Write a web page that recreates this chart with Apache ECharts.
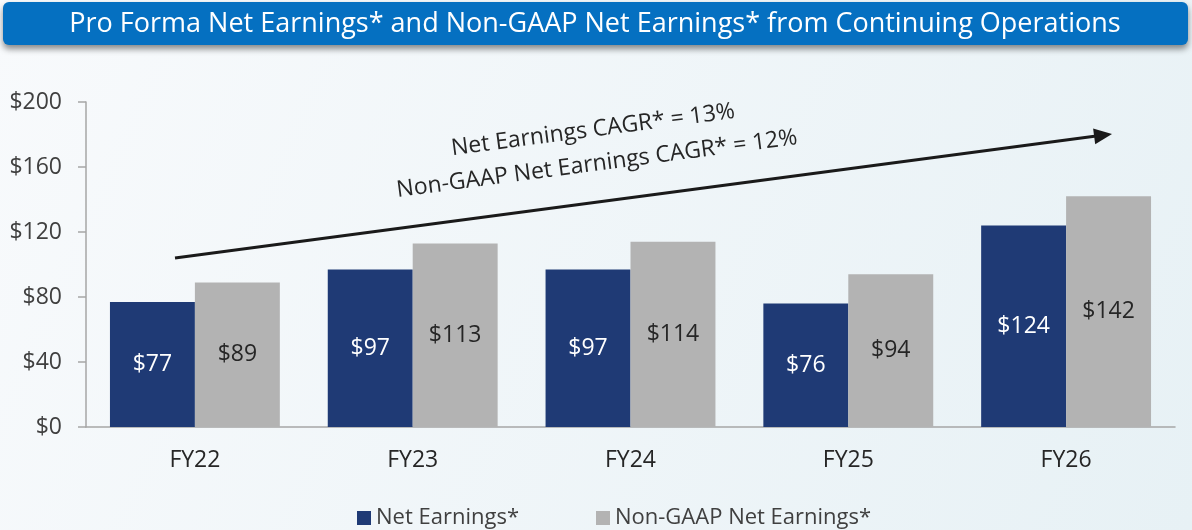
<!DOCTYPE html>
<html>
<head>
<meta charset="utf-8">
<script src="https://cdn.jsdelivr.net/npm/echarts@6/dist/echarts.min.js"></script>
<style>
  html, body { margin: 0; padding: 0; }
  #chart { width: 1192px; height: 530px; }
</style>
</head>
<body>
<div id="chart"></div>
<script>
const categories = ["FY22", "FY23", "FY24", "FY25", "FY26"];
const netEarnings = [77, 97, 97, 76, 124];
const nonGaapEarnings = [89, 113, 114, 94, 142];
const yTicks = [0, 40, 80, 120, 160, 200];

const chart = echarts.init(document.getElementById("chart"));
const font = "'Open Sans', sans-serif";

// arrow geometry (annotation, in pixels)
const arrowStart = [175, 258];
const arrowEnd = [1112, 134];
const dx = arrowEnd[0] - arrowStart[0];
const dy = arrowEnd[1] - arrowStart[1];
const arrowLen = Math.sqrt(dx * dx + dy * dy);
const arrowAngle = Math.atan2(-dy, dx);

const option = {
  backgroundColor: {
    type: "linear", x: 0, y: 0, x2: 1, y2: 1,
    colorStops: [
      { offset: 0, color: "#f8fafc" },
      { offset: 1, color: "#e7f1f5" }
    ]
  },
  textStyle: { fontFamily: font },
  grid: { left: 86, right: 17, top: 102, bottom: 103 },
  legend: {
    left: 352,
    top: 502,
    itemWidth: 14,
    itemHeight: 14,
    itemGap: 77,
    icon: "rect",
    textStyle: { fontSize: 22, color: "#404040", fontFamily: font },
    data: ["Net Earnings*", "Non-GAAP Net Earnings*"]
  },
  xAxis: {
    type: "category",
    data: categories,
    axisLine: { lineStyle: { color: "#a6a6a6", width: 1.5 } },
    axisTick: { show: false },
    axisLabel: { fontSize: 23, color: "#262626", margin: 22 }
  },
  yAxis: {
    type: "value",
    min: yTicks[0],
    max: yTicks[yTicks.length - 1],
    interval: 40,
    axisLine: { show: true, lineStyle: { color: "#a6a6a6", width: 1.5 } },
    axisTick: { show: true, length: 8, lineStyle: { color: "#a6a6a6", width: 1.5 } },
    splitLine: { show: false },
    axisLabel: {
      fontSize: 23,
      color: "#404040",
      margin: 24,
      formatter: v => "$" + v
    }
  },
  series: [
    {
      name: "Net Earnings*",
      type: "bar",
      data: netEarnings,
      barWidth: "39%",
      barGap: "0%",
      itemStyle: { color: "#1f3a75" },
      label: {
        show: true,
        position: "inside",
        color: "#ffffff",
        fontSize: 23,
        formatter: p => "$" + p.value
      }
    },
    {
      name: "Non-GAAP Net Earnings*",
      type: "bar",
      data: nonGaapEarnings,
      barWidth: "39%",
      itemStyle: { color: "#b3b3b3" },
      label: {
        show: true,
        position: "inside",
        color: "#262626",
        fontSize: 23,
        formatter: p => "$" + p.value
      }
    }
  ],
  graphic: [
    {
      type: "rect",
      shape: { x: 3, y: 2, width: 1185, height: 43, r: 6 },
      style: {
        fill: "#0570c1",
        shadowBlur: 6,
        shadowOffsetY: 4,
        shadowColor: "rgba(0,0,0,0.45)"
      }
    },
    {
      type: "text",
      x: 595,
      y: 24,
      style: {
        text: "Pro Forma Net Earnings* and Non-GAAP Net Earnings* from Continuing Operations",
        fill: "#ffffff",
        font: "27px " + font,
        align: "center",
        verticalAlign: "middle"
      }
    },
    {
      type: "group",
      x: arrowStart[0],
      y: arrowStart[1],
      rotation: arrowAngle,
      children: [
        {
          type: "line",
          shape: { x1: 0, y1: 0, x2: arrowLen - 12, y2: 0 },
          style: { stroke: "#1a1a1a", lineWidth: 3 }
        },
        {
          type: "polygon",
          shape: { points: [[arrowLen, 0], [arrowLen - 18, -8], [arrowLen - 18, 8]] },
          style: { fill: "#1a1a1a" }
        }
      ]
    },
    {
      type: "text",
      x: 593,
      y: 130,
      rotation: arrowAngle,
      style: {
        text: "Net Earnings CAGR* = 13%",
        fill: "#262626",
        font: "23px " + font,
        align: "center",
        verticalAlign: "middle"
      }
    },
    {
      type: "text",
      x: 597,
      y: 164,
      rotation: arrowAngle,
      style: {
        text: "Non-GAAP Net Earnings CAGR* = 12%",
        fill: "#262626",
        font: "23px " + font,
        align: "center",
        verticalAlign: "middle"
      }
    }
  ]
};

chart.setOption(option);
</script>
</body>
</html>
